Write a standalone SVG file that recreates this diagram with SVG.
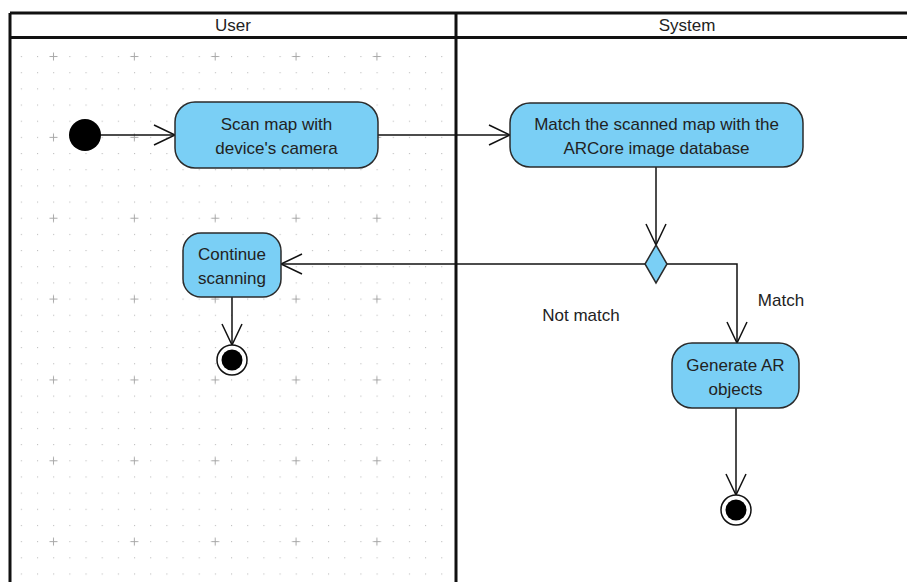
<svg xmlns="http://www.w3.org/2000/svg" width="907" height="582" viewBox="0 0 907 582">
  <style>
    .lane { stroke: #111; stroke-width: 3; fill: none; }
    .lane-title { font-family: "Liberation Sans", Arial, sans-serif; font-size: 17px; fill: #222; text-anchor: middle; }
    .action rect, .decision path { fill: #7ACFF5; stroke: #2b2b2b; stroke-width: 1.5; }
    .label { font-family: "Liberation Sans", Arial, sans-serif; font-size: 17px; fill: #222; text-anchor: middle; }
    .edge { stroke: #111; stroke-width: 1.5; fill: none; marker-end: url(#open-arrow); }
    .guard { font-family: "Liberation Sans", Arial, sans-serif; font-size: 17px; fill: #222; text-anchor: middle; }
  </style>
  <defs>
    <marker id="open-arrow" viewBox="-24 -12 26 24" markerWidth="26" markerHeight="24" refX="0" refY="0" orient="auto" markerUnits="userSpaceOnUse" overflow="visible">
      <path d="M-21 -10 L0 0 L-21 10" fill="none" stroke="#111" stroke-width="1.5"/>
    </marker>
    <!-- background grid of the User lane: small dots and larger crosses -->
    <pattern id="grid-dots" patternUnits="userSpaceOnUse" x="13.2" y="48.4" width="16.17" height="16.17">
      <rect x="7.6" y="7.6" width="1.1" height="1.1" fill="#bdbdbd"/>
    </pattern>
    <pattern id="grid-cross" patternUnits="userSpaceOnUse" x="13.1" y="16.1" width="80.85" height="80.85">
      <path d="M36.4 40.4 H44.4 M40.4 36.4 V44.4" stroke="#a9a9a9" stroke-width="1"/>
    </pattern>
  </defs>

  <rect width="907" height="582" fill="#fff"/>

  <!-- grid -->
  <g id="grid">
    <rect x="13" y="46" width="439" height="536" fill="url(#grid-dots)"/>
    <rect x="13" y="46" width="439" height="536" fill="url(#grid-cross)"/>
  </g>

  <!-- swimlanes -->
  <g id="swimlanes">
    <path class="lane" d="M10 13 H907 M10 37.5 H907 M10 13 V582 M456 13 V582"/>
    <text class="lane-title" x="233" y="31">User</text>
    <text class="lane-title" x="687" y="31">System</text>
  </g>

  <!-- connectors -->
  <g id="connectors">
    <path class="edge" d="M101 135 H175"/>
    <path class="edge" d="M378 135 H510"/>
    <path class="edge" d="M656 167 V245"/>
    <path class="edge" d="M645 264 H281"/>
    <path class="edge" d="M667 264 H737 V343"/>
    <path class="edge" d="M232 297 V345"/>
    <path class="edge" d="M736 408 V495"/>
    <text class="guard" x="581" y="321">Not match</text>
    <text class="guard" x="781" y="306">Match</text>
  </g>

  <!-- nodes -->
  <g id="start">
    <circle cx="85" cy="135" r="16" fill="#000"/>
  </g>

  <g id="scan-map" class="action">
    <rect x="175" y="102" width="203" height="66" rx="20" ry="20"/>
    <text class="label" x="276.5" y="130">Scan map with</text>
    <text class="label" x="276.5" y="154">device's camera</text>
  </g>

  <g id="match-map" class="action">
    <rect x="510" y="103" width="293" height="64" rx="20" ry="20"/>
    <text class="label" x="656.5" y="130">Match the scanned map with the</text>
    <text class="label" x="656.5" y="154">ARCore image database</text>
  </g>

  <g id="decision" class="decision">
    <path d="M656 245 L667 264 L656 283 L645 264 Z"/>
  </g>

  <g id="continue-scanning" class="action">
    <rect x="183" y="233" width="98" height="64" rx="18" ry="18"/>
    <text class="label" x="232" y="260">Continue</text>
    <text class="label" x="232" y="284">scanning</text>
  </g>

  <g id="generate-ar" class="action">
    <rect x="672" y="343" width="127" height="65" rx="20" ry="20"/>
    <text class="label" x="735.5" y="371">Generate AR</text>
    <text class="label" x="735.5" y="395">objects</text>
  </g>

  <g id="end-continue">
    <circle cx="232" cy="360" r="15" fill="#fff" stroke="#111" stroke-width="1.5"/>
    <circle cx="232" cy="360" r="10.5" fill="#000"/>
  </g>

  <g id="end-generate">
    <circle cx="736" cy="510" r="15" fill="#fff" stroke="#111" stroke-width="1.5"/>
    <circle cx="736" cy="510" r="10.5" fill="#000"/>
  </g>
</svg>
